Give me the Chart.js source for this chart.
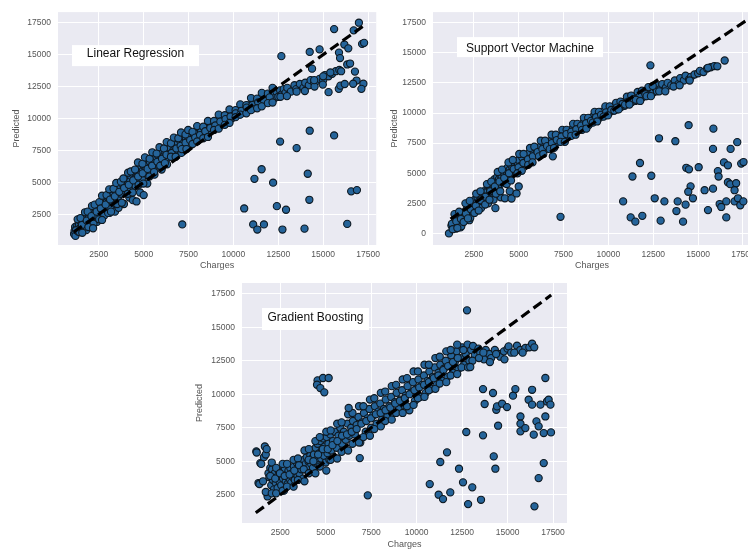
<!DOCTYPE html>
<html>
<head>
<meta charset="utf-8">
<script src="https://cdn.jsdelivr.net/npm/chart.js@4.4.0/dist/chart.umd.min.js"></script>
<style>
    html, body { margin: 0; padding: 0; background: #fff; overflow: hidden; width: 748px; height: 550px; }
    canvas { position: absolute; }
    #lr { left: 0; top: 0; }
    #svm { left: 380px; top: 0; }
    #gb { left: 180px; top: 270px; }
</style>
</head>
<body>
<canvas id="lr" width="385" height="272"></canvas>
<canvas id="svm" width="380" height="272"></canvas>
<canvas id="gb" width="400" height="281"></canvas>
<script>
// ticks
const xTicks = [2500, 5000, 7500, 10000, 12500, 15000, 17500];
const yTicks = [2500, 5000, 7500, 10000, 12500, 15000, 17500];
const yTicksSvm = [0, 2500, 5000, 7500, 10000, 12500, 15000, 17500];

// diagonal reference line (charges -> charges)
const lrLine = [1100, 17200];
const svmLine = [1200, 17800];
const gbLine = [1150, 17400];

// Linear Regression: [charges, predicted]
const lrBand = [
    [1120,950],[1150,1200],[1180,1500],[1200,800],[1250,1350],[1300,1600],[1350,1150],[1400,1700],[1450,1400],[1500,1900],
    [1550,1300],[1600,1750],[1650,2000],[1700,1500],[1750,2100],[1800,1250],[1850,2300],[1900,1900],[1950,2400],[2000,2050],
    [2050,1700],[2100,2500],[2150,2200],[2200,2700],[2250,1900],[2300,2600],[2350,2900],[2400,2300],[2450,3000],[2500,2650],
    [2550,3200],[2600,2500],[2650,3100],[2700,3400],[2750,2800],[2800,3300],[2850,3600],[2900,3000],[2950,3500],[3000,3800],
    [3050,3200],[3100,3700],[3150,2900],[3200,4000],[3250,3500],[3300,4200],[3350,3800],[3400,4400],[3450,3300],[3500,4100],
    [3550,4500],[3600,3900],[3650,4300],[3700,4700],[3750,4100],[3800,4900],[3850,4400],[3900,5000],[3950,4600],[4000,4300],
    [4050,5200],[4100,4800],[4150,5400],[4200,4500],[4250,5100],[4300,5500],[4350,4900],[4400,5600],[4450,5200],[4500,5800],
    [4550,4700],[4600,5400],[4650,5900],[4700,5100],[4750,6000],[4800,5600],[4850,6200],[4900,5300],[4950,5900],[5000,6300],
    [5100,5700],[5150,6100],[5200,6500],[5300,5900],[5350,6600],[5400,6200],[5500,6800],[5550,6000],[5600,6500],[5700,7000],
    [5750,6400],[5800,7100],[5900,6700],[6000,7300],[6050,6600],[6100,7000],[6200,7400],[6300,6900],[6350,7600],[6400,7200],
    [6500,7700],[6600,7100],[6650,7500],[6700,7900],[6800,7400],[6900,8000],[7000,7600],[7050,8200],[7100,7300],[7200,8100],
    [7300,7800],[7350,8400],[7400,8000],[7500,8500],[7600,7900],[7700,8300],[7800,8700],[7900,8200],[8000,8800],[8100,8500],
    [8200,9000],[8300,8600],[8400,9200],[8500,8800],[8600,9300],[8700,9000],[8800,9600],[8900,9200],[9000,9700],[9100,9400],
    [9200,9900],[9300,9500],[9400,10000],[9500,9700],[9600,10200],[9700,9900],[9800,10300],[9900,10000],[10000,10500],[10100,10200],
    [10200,10600],[10300,10300],[10400,10700],[10500,10500],[10600,10800],[10700,10600],[10800,11000],[10900,10700],[11000,11100],[11100,10800],
    [11200,11300],[11300,11000],[11400,11500],[11500,11200],[11600,11600],[11700,11300],[11800,11700],[11900,11400],[12000,11800],[12100,11500],
    [12200,11900],[12300,11600],[12400,12100],[12500,11700],[12600,12200],[12700,11900],[12800,12300],[12900,12000],[13000,12400],[13200,12100],
    [13400,12600],[13500,12300],[13700,12700],[13900,12400],[14000,12800],[14200,12600],[14300,13000],[14500,12800],[14600,12900],[14800,13100],
    [15000,13000],[15100,13400],[15300,13300],[15500,13500],[15700,13700],[15900,13800],[16000,13700],
    [2000,1600],[2400,1900],[2800,2400],[3100,2600],[3400,2700],[3600,3000],[3900,3300],[4200,3800],[4400,3600],[4600,3500],
    [4800,4200],[5000,4000],[5200,4900],[5600,5600],[6000,6000],[6300,6400],[1800,1800],[2200,1750]
];
const lrBandUpper = [
    [1320,2100],[1480,2200],[1730,2650],[1880,2700],[2120,3150],[2270,3250],[2530,3450],[2680,3950],[2930,4000],[3080,4450],
    [3320,4500],[3470,4950],[3730,5050],[3870,5300],[4130,5750],[4280,5850],[4520,6000],[4680,6550],[4930,6450],[5070,6950],
    [5330,6850],[5480,7350],[5720,7250],[5880,7750],[6130,7650],[6280,8150],[6520,8050],[6680,8500],[6930,8450],[7080,8900],
    [7330,8750],[7480,9100],[7720,8950],[7980,9400],[8320,9350],[8580,9800],[8920,9800],[9180,10300],[9520,10250],[9780,10700],
    [10120,10650],[10380,11100],[10720,11050],[10980,11600],[11320,11550],[11580,12000],[11920,11950],[12180,12400]
];
const lrBandMid = [
    [1230,1250],[1560,1650],[1830,2000],[2090,2350],[2380,2700],[2610,2950],[2880,3250],[3130,3650],[3390,3900],[3640,4250],
    [3910,4550],[4170,4800],[4420,5150],[4690,5450],[4940,5700],[5220,6050],[5470,6300],[5760,6600],[6020,6850],[6270,7150],
    [6560,7300],[6820,7650],[7060,7850],[7330,8100],[7590,8300],[7870,8500],[8140,8700],[8430,9000],[8710,9250],[8990,9450],
    [9270,9750],[9560,9950],[9840,10150],[10130,10400],[10450,10600],[10740,10850],[11060,11050],[11380,11250],[11690,11450],[12020,11650]
];
const lrBandLower = [
    [1420,1100],[1580,1050],[1920,1500],[2180,1400],[2520,2100],[2680,2050],[3020,2600],[3180,2700],[3520,3300],[3780,3400],
    [4120,4100],[4380,4200],[4720,4800],[4980,4900],[5320,5450],[5580,5800],[5920,6300],[6180,6500],[6520,7000],[6780,7000],
    [7120,7600],[7380,7600],[7720,8000],[7980,8200],[8320,8450],[8580,8550],[8920,9100],[9180,9200],[9520,9500],[9780,9650],
    [10120,10100],[10380,10300],[10720,10400],[10980,10650],[11320,10800],[11580,10950],[11920,11200],[12180,11250],[12620,11700],[12980,11750],
    [13520,12100],[13980,12150],[14520,12500],[14980,12650]
];
const lrOutliers = [
    [7150,1700],[10600,2950],[11100,1700],[11330,1300],[11700,1700],[12730,1300],[11170,5270],[11570,6020],[12210,4970],[12420,3130],
    [12930,2850],[12600,8190],[13520,7680],[14250,9040],[14140,5670],[14230,3630],[13960,1370],[15610,8670],[16340,1740],[16560,4290],
    [16880,4390],[15610,17000],[16990,17500],[12670,14880],[14250,15210],[14800,15410],[14380,13900],[15880,15160],[15940,14730],[16180,15790],
    [16400,15490],[16340,14230],[17170,15840],[17280,15920],[16770,13670],[16860,12970],[17240,12720],[17130,12320],[16670,12720],[15300,12060],
    [15870,12320],[15960,12570],[16500,14300],[16700,16900],[14500,13000],[15000,13300],[15400,13600],[16200,12700]
];

// Support Vector Machine
const svmBand = [
    [1110,0],[1250,650],[1350,500],[1450,900],[1500,400],[1550,1100],[1600,700],[1650,1300],[1700,900],[1750,500],
    [1800,1400],[1850,1000],[1900,1600],[1950,1200],[2000,1800],[2050,1300],[2100,2000],[2150,1500],[2200,2200],[2250,1100],
    [2300,1900],[2350,2400],[2400,1700],[2450,2600],[2500,2200],[2550,2800],[2600,1900],[2650,2500],[2700,3000],[2750,2300],
    [2800,2700],[2850,3200],[2900,2500],[2950,3000],[3000,3400],[3050,2800],[3100,3300],[3150,3600],[3200,2900],[3250,3500],
    [3300,3900],[3350,3200],[3400,3700],[3450,4100],[3500,3400],[3550,4300],[3600,3800],[3650,4500],[3700,3600],[3750,4200],
    [3800,4700],[3850,3900],[3900,4500],[3950,4900],[4000,4100],[4050,4700],[4100,5100],[4150,4400],[4200,5000],[4250,5300],
    [4300,4600],[4350,5100],[4400,5500],[4450,4800],[4500,5300],[4550,5700],[4600,5000],[4650,5500],[4700,5900],[4750,5200],
    [4800,5700],[4850,6000],[4900,5400],[4950,5800],[5000,6100],[5100,5600],[5200,6300],[5300,5800],[5400,6500],[5500,6100],
    [5600,6700],[5700,6300],[5800,6900],[5900,6500],[6000,7000],[6100,6700],[6200,7200],[6300,6800],[6400,7400],[6500,7000],
    [6600,7500],[6700,7200],[6800,7700],[6900,6400],[6950,7400],[7000,7900],[7100,7500],[7200,8000],[7300,7700],[7400,8200],
    [7500,7900],[7600,8300],[7700,8000],[7800,8500],[7900,8200],[8000,8700],[8100,8400],[8200,8900],[8300,8600],[8400,9000],
    [8500,8700],[8600,9200],[8700,8900],[8800,9400],[8900,9000],[9000,9600],[9100,9300],[9200,9800],[9300,9500],[9400,9900],
    [9500,9600],[9600,10100],[9700,9800],[9800,10200],[9900,9900],[10000,10400],[10100,10100],[10200,10500],[10300,10200],[10400,10600],
    [10500,10300],[10600,10700],[10700,10500],[10800,10900],[10900,10600],[11000,11000],[11100,10800],[11200,11200],[11300,10900],[11400,11300],
    [11500,11000],[11600,11400],[11700,11200],[11800,11600],[11900,11300],[12000,11700],[12100,11400],[12200,11800],[12300,11500],[12400,12000],
    [12500,11700],[12600,12100],[12700,11800],[12800,12300],[12900,12000],[13000,12400],[13200,12100],[13300,12500],[13500,12300],[13700,12700],
    [13900,12400],[14000,12900],[14200,12700],[14300,13100],[14500,12800],[14600,13000],[14800,13200],[15000,13300],[15100,13500],[15300,13400],
    [15500,13700],[15700,13800],[15900,13900],
    [2900,2100],[3300,2500],[3600,2800],[4000,3000],[4230,2920],[4500,3500],[4600,2900],[4880,3320],[5000,3900],[3700,2100],
    [2300,1300],[1800,600]
];
const svmBandUpper = [
    [1420,1600],[1680,1800],[2030,2500],[2270,2700],[2630,3300],[2870,3500],[3230,4100],[3470,4300],[3830,5100],[4070,5300],
    [4430,5900],[4670,6100],[5030,6600],[5270,6600],[5630,7100],[5870,7200],[6230,7700],[6470,7700],[6830,8200],[7070,8200],
    [7430,8600],[7670,8600],[8030,9100],[8270,9100],[8630,9600],[8870,9600],[9230,10100],[9470,10100],[9830,10550],[10070,10550],
    [10430,10850],[10670,10950],[11030,11350],[11270,11450],[11630,11750],[11870,11850],[12230,12150],[12470,12250]
];
const svmBandMid = [
    [1280,800],[1520,1000],[1780,1200],[2060,1650],[2330,2000],[2610,2300],[2880,2750],[3140,3050],[3410,3500],[3670,3900],
    [3930,4300],[4190,4600],[4460,5000],[4720,5350],[4990,5500],[5260,5850],[5520,6150],[5790,6400],[6050,6750],[6320,7000],
    [6580,7250],[6850,7500],[7120,7750],[7390,8050],[7660,8250],[7930,8450],[8210,8650],[8480,8950],[8760,9150],[9030,9350],
    [9310,9650],[9590,9850],[9870,10050],[10160,10250],[10470,10450],[10780,10750],[11090,10950],[11410,11150],[11730,11350],[12060,11550]
];
const svmBandLower = [
    [1320,350],[1580,450],[1930,950],[2170,1250],[2530,1700],[2770,1900],[3130,2400],[3370,2800],[3730,3300],[3970,3500],
    [4330,4100],[4570,4400],[4930,5000],[5170,5200],[5530,5700],[5770,5900],[6130,6400],[6370,6600],[6730,7000],[6970,7100],
    [7330,7600],[7570,7600],[7930,8100],[8170,8200],[8530,8600],[8770,8700],[9130,9200],[9370,9300],[9730,9700],[9970,9800],
    [10330,10200],[10570,10300],[10930,10700],[11170,10700],[11530,11100],[11770,11000],[12130,11400],[12370,11400],[12830,11800],[13170,11800],
    [13630,12200],[13970,12300],[14530,12700]
];
const svmOutliers = [
    [7330,1380],[10820,2660],[11240,1330],[11500,980],[11890,1460],[11340,4730],[11760,5850],[12390,4790],[12580,2920],[12820,7900],
    [12910,1060],[13120,2660],[13730,7660],[13790,1860],[13860,2660],[14160,980],[14300,2390],[14470,8990],[14340,5450],[14490,5320],
    [14580,3910],[14450,3460],[14710,2920],[15030,5500],[15360,3590],[15550,1940],[15830,3720],[15850,8700],[15830,7020],[16100,5180],
    [16140,4730],[16200,2440],[16290,2200],[16440,5900],[16570,2660],[16570,1330],[16660,4250],[16790,4090],[16660,5660],[16810,7020],
    [17180,7580],[17120,4170],[17030,3590],[17030,2660],[17220,2920],[17350,2340],[17400,5800],[17530,5930],[17520,2660],
    [12340,13960],[16070,13880],[15550,13750],[16480,14360]
];

// Gradient Boosting
const gbBand = [
    [1180,5730],[1200,5650],[1300,3370],[1350,3300],[1400,4860],[1450,4800],[1550,3500],[1600,5300],[1650,6100],[1700,5500],
    [1750,5900],[1800,2370],[1700,2700],[1850,4100],[1900,3800],[1950,4500],[2000,3200],[2050,4400],[2100,3600],[2150,2900],
    [2200,4100],[2250,3400],[2300,3800],[2350,3000],[2400,4300],[2450,3500],[2500,3900],[2550,3200],[2600,4200],[2650,3700],
    [2700,2800],[2750,4400],[2800,3500],[2850,4000],[2900,3300],[2950,4300],[3000,3700],[3050,4500],[3100,3400],[3150,4100],
    [3200,3800],[3250,4600],[3300,3600],[3350,4300],[3400,4900],[3450,3900],[3500,4500],[3550,4100],[3600,5000],[3650,4400],
    [3700,4700],[3750,3700],[3800,5100],[3850,4500],[3900,4800],[3950,5300],[4000,4300],[4050,5000],[4100,4600],[4150,5400],
    [4200,4800],[4250,5200],[4300,4500],[4350,5500],[4400,4900],[4450,6000],[4500,5100],[4550,6300],[4600,4700],[4650,5600],
    [4700,6500],[4750,5200],[4800,5800],[4850,6700],[4900,5400],[4950,6100],[5000,4900],[5050,6800],[5100,5600],[5150,6300],
    [5200,5100],[5250,7000],[5300,5800],[5400,6500],[5500,7200],[5600,6000],[5700,6900],[5800,7500],[5900,6300],[6000,7200],
    [6100,6600],[6200,7800],[6300,6900],[6400,7500],[6500,8000],[6600,7000],[6700,7700],[6800,8300],[6900,6400],[7000,7900],
    [7100,8600],[7200,7200],[7300,8200],[7400,8900],[7500,7500],[7600,8400],[7700,9100],[7800,7800],[7900,8700],[8000,9300],
    [8100,8100],[8200,8900],[8300,9600],[8400,8400],[8500,9100],[8600,9800],[8700,8600],[8800,9400],[8900,10100],[9000,8900],
    [9100,9600],[9200,10300],[9300,9200],[9400,9900],[9500,10600],[9600,8800],[9700,10100],[9800,10900],[9900,9500],[10000,10400],
    [10100,11100],[10200,9800],[10300,10700],[10400,11400],[10500,10100],[10600,11000],[10700,11700],[10800,10400],[10900,11300],[11000,12000],
    [11100,10700],[11200,11600],[11300,12200],[11400,11000],[11500,11900],[11600,12500],[11700,11300],[11800,12100],[11900,12900],[12000,11600],
    [12100,12400],[12200,13200],[12300,11900],[12400,12700],[12500,13500],[12600,12200],[12700,13000],[12800,13700],[12900,12500],[13000,13300],
    [13100,13600],[13200,12900],[13400,13400],[13500,13100],[13700,12600],[13800,13300],[14000,13000],[14100,12700],[14300,13300],[14500,13000],
    [14600,12800],[14800,13200],[15000,13400],[15060,13570],[15200,13100],[15520,13620],[15700,13300],[15980,13450],[16200,13500],[16350,13770]
];
const gbBandUpper = [
    [2030,4900],[2270,4500],[2630,4800],[2870,4800],[3230,5100],[3470,5200],[3830,5800],[4070,5900],[4430,6500],[4670,6800],
    [5030,7200],[5270,7300],[5630,7800],[5870,7900],[6230,8500],[6470,8600],[6830,9100],[7070,9100],[7430,9600],[7670,9700],
    [8030,10100],[8270,10200],[8630,10600],[8870,10700],[9230,11100],[9470,11200],[9830,11700],[10070,11700],[10430,12200],[10670,12200],
    [11030,12700],[11270,12800],[11630,13200],[11870,13300],[12230,13700],[12570,13300]
];
const gbBandMid = [
    [1950,3900],[2220,3700],[2480,4100],[2740,3900],[3010,4000],[3270,4300],[3530,4700],[3790,4400],[4060,5100],[4320,5000],
    [4580,5500],[4840,5900],[5110,5900],[5370,6200],[5640,6500],[5900,6900],[6170,7000],[6430,7200],[6700,7400],[6960,7800],
    [7230,8000],[7490,8200],[7760,8500],[8020,8600],[8290,8800],[8550,9000],[8820,9300],[9080,9500],[9350,9700],[9610,10000],
    [9880,10300],[10140,10500],[10410,10700],[10670,10900],[10940,11200],[11200,11400],[11470,11800],[11730,12100],[12000,12400],[12260,12700]
];
const gbBandLower = [
    [2030,2600],[2270,2600],[2630,2800],[2870,3100],[3230,3100],[3470,3600],[3830,3500],[4070,4100],[4430,4100],[4670,4600],
    [5030,4300],[5270,5100],[5630,5200],[5870,5700],[6230,5800],[6470,6300],[6830,6400],[7070,6800],[7430,6900],[7670,7400],
    [8030,7600],[8270,8000],[8630,8100],[8870,8600],[9230,8600],[9470,9100],[9830,9200],[10070,9700],[10430,9800],[10670,10300],
    [11030,10400],[11270,10800],[11630,10900],[11870,11400],[12230,11500],[12470,12000],[12830,12000],[13070,12500],[13430,12700],[13670,13100],
    [14030,12400],[14370,13000],[14830,12600],[15370,13100],[15830,13100],[16470,13500]
];
const gbOutliers = [
    [4550,11030],[4520,10710],[4700,10460],[4920,10140],[4850,11210],[5160,11210],[6260,8970],[6870,5230],[7310,2450],[10720,3290],
    [11210,2500],[11450,2170],[11300,4940],[11670,5660],[11850,2670],[12330,4440],[12550,3420],[12770,16260],[12730,7180],[12830,1800],
    [13060,3050],[12950,12030],[13650,10380],[13740,9270],[13650,6930],[13540,2120],[14200,10090],[14240,5360],[14330,4440],[14380,8840],
    [14420,9090],[14480,7650],[14700,9290],[14970,9040],[15300,9890],[15430,10380],[15710,8340],[15710,7800],[15710,7230],[15980,7470],
    [16160,9590],[16350,10330],[16350,9220],[16440,6980],[16480,1630],[16590,7970],[16710,7600],[16710,3740],[16810,9220],[16990,4860],
    [16990,7100],[17080,11210],[17080,8340],[17170,9460],[17260,9590],[17390,7150],[17360,9220]
];

const tickFont = { family: 'Arial, "Liberation Sans", sans-serif', size: 8.5 };
const titleFont = { family: 'Arial, "Liberation Sans", sans-serif', size: 9 };

// plot background like seaborn darkgrid
const panelBg = {
    id: 'panelBg',
    beforeDraw: (chart) => {
        const { ctx, chartArea: a } = chart;
        ctx.save();
        ctx.fillStyle = '#EAEAF2';
        ctx.fillRect(a.left, a.top, a.right - a.left, a.bottom - a.top);
        ctx.restore();
    }
};

// white label box inside the plot
const modelLabel = {
    id: 'modelLabel',
    afterDraw: (chart, args, opts) => {
        if (!opts.text) return;
        const { ctx, chartArea: a } = chart;
        const x = a.left + opts.x, y = a.top + opts.y;
        ctx.save();
        ctx.fillStyle = '#ffffff';
        ctx.fillRect(x, y, opts.w, opts.h);
        ctx.fillStyle = '#111';
        ctx.font = '12px Arial, "Liberation Sans", sans-serif';
        ctx.textAlign = 'center';
        ctx.textBaseline = 'middle';
        ctx.fillText(opts.text, x + opts.w / 2, y + opts.ty);
        ctx.restore();
    }
};

const toXY = (arr) => arr.map(p => ({ x: p[0], y: p[1] }));

function makeChart(id, cfg) {
    const ctx = document.getElementById(id);
    return new Chart(ctx, {
        type: 'scatter',
        data: {
            datasets: [{
                data: toXY(cfg.line.map(v => [v, v])),
                showLine: true,
                borderColor: '#000',
                borderWidth: 3.2,
                borderDash: [10, 5],
                pointRadius: 0,
                order: 0
            }, {
                data: toXY(cfg.points),
                backgroundColor: '#25649a',
                borderColor: '#0e1820',
                borderWidth: 1.1,
                pointRadius: 3.6,
                order: 1
            }]
        },
        options: {
            responsive: false,
            animation: false,
            devicePixelRatio: 1,
            layout: { padding: cfg.padding },
            plugins: {
                legend: { display: false },
                tooltip: { enabled: false },
                modelLabel: cfg.label
            },
            scales: {
                x: {
                    min: cfg.xRange[0],
                    max: cfg.xRange[1],
                    afterBuildTicks: (axis) => { axis.ticks = xTicks.map(v => ({ value: v })); },
                    afterFit: (axis) => { axis.height = cfg.xHeight; },
                    grid: { color: '#ffffff', lineWidth: 1, drawTicks: false },
                    border: { display: false },
                    ticks: { font: tickFont, color: '#555', padding: 5, maxRotation: 0, callback: (v) => String(v) },
                    title: { display: true, text: 'Charges', font: titleFont, color: '#555', padding: { top: 0, bottom: cfg.xTitlePad } }
                },
                y: {
                    min: cfg.yRange[0],
                    max: cfg.yRange[1],
                    afterBuildTicks: (axis) => { axis.ticks = cfg.yTicks.map(v => ({ value: v })); },
                    afterFit: (axis) => { axis.width = cfg.yWidth; },
                    grid: { color: '#ffffff', lineWidth: 1, drawTicks: false },
                    border: { display: false },
                    ticks: { font: tickFont, color: '#555', padding: 7, callback: (v) => String(v) },
                    title: { display: true, text: 'Predicted', font: titleFont, color: '#555', padding: { top: cfg.yTitlePad, bottom: 0 } }
                }
            }
        },
        plugins: [panelBg, modelLabel]
    });
}

makeChart('lr', {
    line: lrLine,
    points: lrBand.concat(lrBandUpper, lrBandMid, lrBandLower, lrOutliers),
    xRange: [226, 17957],
    yRange: [89, 18330],
    yTicks: yTicks,
    padding: { top: 3, right: 5, left: 0, bottom: 0 },
    xHeight: 27,
    yWidth: 58,
    xTitlePad: 0.6,
    yTitlePad: 11.6,
    label: { text: 'Linear Regression', x: 14, y: 33, w: 127, h: 21, ty: 9 }
});

makeChart('svm', {
    line: svmLine,
    points: svmBand.concat(svmBandUpper, svmBandMid, svmBandLower, svmOutliers),
    xRange: [222, 17950],
    yRange: [-960, 18380],
    yTicks: yTicksSvm,
    padding: { top: 3, right: 8, left: 0, bottom: 0 },
    xHeight: 27,
    yWidth: 53,
    xTitlePad: 0.6,
    yTitlePad: 9.6,
    label: { text: 'Support Vector Machine', x: 24, y: 25, w: 146, h: 20, ty: 12 }
});

makeChart('gb', {
    line: gbLine,
    points: gbBand.concat(gbBandUpper, gbBandMid, gbBandLower, gbOutliers),
    xRange: [393, 18270],
    yRange: [388, 18300],
    yTicks: yTicks,
    padding: { top: 13, right: 13, left: 0, bottom: 0 },
    xHeight: 28,
    yWidth: 62,
    xTitlePad: 0.6,
    yTitlePad: 14.6,
    label: { text: 'Gradient Boosting', x: 20, y: 25, w: 107, h: 22, ty: 10 }
});
</script>
</body>
</html>
